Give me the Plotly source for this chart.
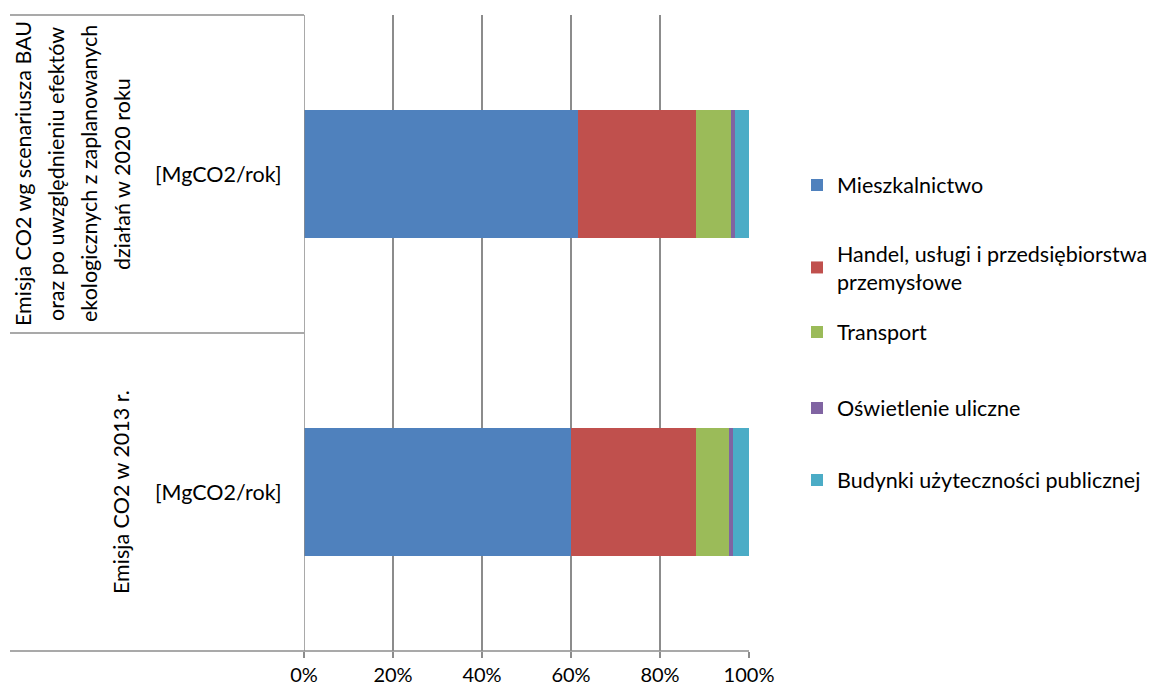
import plotly.graph_objects as go

# Share of CO2 emissions by sector (%), per scenario
categories = ["2013", "2020"]
sectors = [
    "Mieszkalnictwo",
    "Handel, usługi i przedsiębiorstwa<br>przemysłowe",
    "Transport",
    "Oświetlenie uliczne",
    "Budynki użyteczności publicznej",
]
mieszkalnictwo = [60.1, 61.6]
handel = [27.9, 26.4]
transport = [7.5, 8.0]
oswietlenie = [0.9, 0.9]
budynki = [3.6, 3.1]
colors = ["#4F81BD", "#C0504D", "#9BBB59", "#8064A2", "#4BACC6"]
tick_vals = [0, 20, 40, 60, 80, 100]
tick_text = ["0%", "20%", "40%", "60%", "80%", "100%"]

FONT = "Lato"
FS = 21.5
GRID = "#8C8C8C"

# plot area in pixels
L, R, T, B = 304, 749, 15, 651


def px(xpix):
    return (xpix - L) / (R - L)


def py(ypix):
    return 1 - (ypix - T) / (B - T)


# vertical centre of each legend entry
legend_rows = [185, 267.5, 332, 408, 480]

fig = go.Figure()
series = [mieszkalnictwo, handel, transport, oswietlenie, budynki]
for i, (name, vals) in enumerate(zip(sectors, series)):
    fig.add_trace(go.Bar(
        y=categories, x=vals, name=name, orientation="h",
        marker=dict(color=colors[i], line=dict(width=0)),
        width=0.4, legend="legend" if i == 0 else f"legend{i + 1}",
    ))

legend_common = dict(
    x=px(797), xanchor="left", yanchor="middle",
    font=dict(family=FONT, size=FS, color="#000000"),
    itemwidth=30, bgcolor="rgba(0,0,0,0)",
)
legends = {}
for i, yp in enumerate(legend_rows):
    key = "legend" if i == 0 else f"legend{i + 1}"
    legends[key] = dict(legend_common, y=py(yp))

fig.update_layout(
    barmode="stack", barnorm="percent",
    width=1160, height=686,
    margin=dict(l=L, r=1160 - R, t=T, b=686 - B, autoexpand=False),
    paper_bgcolor="white", plot_bgcolor="white",
    font=dict(family=FONT, size=FS, color="#000000"),
    showlegend=True,
    xaxis=dict(
        range=[0, 100], tickmode="array", tickvals=tick_vals, ticktext=tick_text,
        showgrid=True, gridcolor=GRID, gridwidth=1.5,
        ticks="outside", ticklen=6, tickcolor=GRID, tickwidth=1.5,
        showline=False, zeroline=False, automargin=False,
        tickfont=dict(family=FONT, size=20, color="#000000"),
    ),
    yaxis=dict(
        type="category", categoryorder="array", categoryarray=categories,
        range=[-0.5, 1.5], showticklabels=False, showgrid=False,
        zeroline=False, showline=False, ticks="", automargin=False,
    ),
    **legends,
)

# Axis lines and category separators
x_left = px(10)
line = dict(color=GRID, width=1.5)
fig.add_shape(type="line", xref="x", yref="paper", x0=0, x1=0, y0=0, y1=1, line=line)
fig.add_shape(type="line", xref="paper", yref="paper", x0=x_left, x1=1, y0=0, y1=0, line=line)
fig.add_shape(type="line", xref="paper", yref="y", x0=x_left, x1=0, y0=0.5, y1=0.5, line=line)
fig.add_shape(type="line", xref="paper", yref="paper", x0=x_left, x1=0, y0=1, y1=1, line=line)


def label(text, xpix, ycat, angle=0):
    fig.add_annotation(text=text, x=px(xpix), y=ycat, xref="paper", yref="y",
                       xanchor="center", yanchor="middle", textangle=angle,
                       showarrow=False,
                       font=dict(family=FONT, size=FS, color="#000000"))


# Category labels
top_lines = [
    "Emisja CO2 wg scenariusza BAU",
    "oraz po uwzględnieniu efektów",
    "ekologicznych z zaplanowanych",
    "działań w 2020 roku",
]
for k, txt in enumerate(top_lines):
    label(txt, 23 + 33 * k, 1, -90)
label("Emisja CO2 w 2013 r.", 121, 0, -90)
for cat in range(2):
    label("[MgCO2/rok]", 218, cat)

fig.write_html("out.html")
